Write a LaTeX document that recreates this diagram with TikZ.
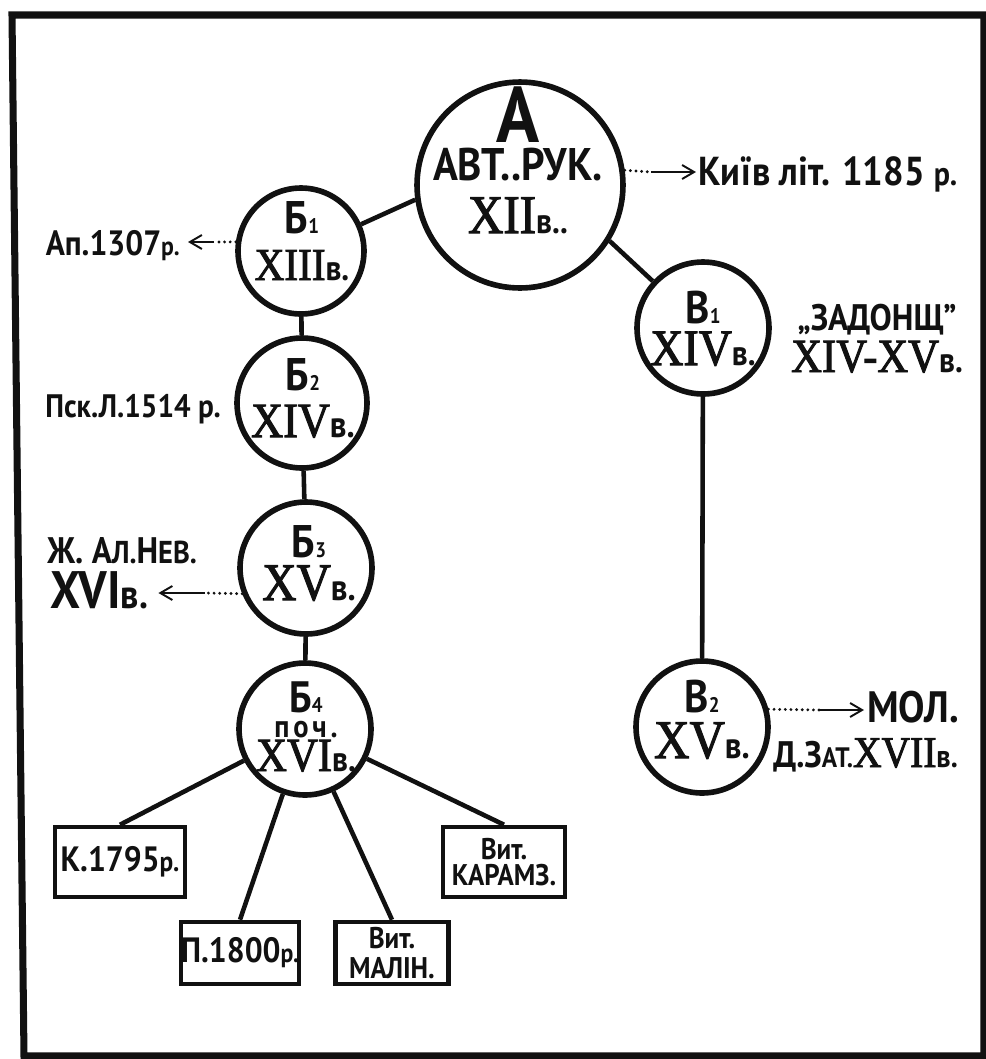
\documentclass[tikz,border=0pt]{standalone}
\usepackage{fontspec}
\setmainfont{PT Sans}[FakeStretch=0.9,UprightFont=* Bold]
\newfontfamily\romfont{Liberation Serif}[FakeStretch=0.9,FakeBold=2]
\usepackage{tikz}
\usetikzlibrary{arrows.meta,positioning,calc}
\definecolor{ink}{HTML}{111111}
\lineskiplimit=-100pt
\newcommand{\fsz}[1]{\fontsize{#1}{#1}\selectfont}
\newcommand{\subidx}[1]{{\fsz{12}#1}}
\newcommand{\vek}[3]{{\romfont\fsz{#2}#1}{\fsz{#3}в.}}
\tikzset{
  ms/.style={draw=ink,circle,line width=3.2pt,inner sep=0pt},
  copybox/.style={draw=ink,line width=2.6pt,align=center,inner sep=0pt,text=ink},
  link/.style={draw=ink,line width=2.6pt},
  dotline/.style={draw=ink,line width=1.8pt,line cap=round,dash pattern=on 0pt off 3.2pt},
  arrline/.style={draw=ink,line width=1.1pt,-{Straight Barb[length=2.4mm,width=2.8mm]}},
  lab/.style={text=ink,inner sep=0pt,anchor=base},
  stack/.style={text=ink,inner sep=0pt,anchor=base,align=center,font=\fontsize{10}{0}\selectfont}
}

\begin{document}
\begin{tikzpicture}[x=0.02cm,y=-0.02cm]
    \useasboundingbox (0,0) rectangle (986,1059);
    \draw[ink,line width=4pt] (12,15) -- (984,15) -- (984,1056) -- (24,1056) -- cycle;
    % manuscripts
    \node[ms,minimum size=4.12cm] (a) at (520,185) {};
    \node[ms,minimum size=2.52cm] (b1) at (301,251) {};
    \node[ms,minimum size=2.6cm] (b2) at (302,403) {};
    \node[ms,minimum size=2.64cm] (b3) at (306,568) {};
    \node[ms,minimum size=2.64cm] (b4) at (305,729) {};
    \node[ms,minimum size=2.64cm] (v1) at (703,328) {};
    \node[ms,minimum size=2.64cm] (v2) at (702,727) {};
    \node[stack] (a-txt) at (518,233)
      {{\fsz{45}А}\\[21.5pt]{\fsz{26}АВТ..РУК.}\\[30pt]{\romfont\fsz{31}XII}{\fsz{20}в..}};
    \node[stack] (b1-txt) at (302,280) {{\fsz{26}Б}\subidx{1}\\[26.6pt]\vek{XIII}{26}{20}};
    \node[stack] (b2-txt) at (303,437) {{\fsz{26}Б}\subidx{2}\\[26.6pt]\vek{XIV}{28}{21}};
    \node[stack] (b3-txt) at (309,600) {{\fsz{26}Б}\subidx{3}\\[24.4pt]\vek{XV}{30}{21}};
    \node[stack] (b4-txt) at (306,771)
      {{\fsz{25}Б}\subidx{4}\\[14.2pt]{\fsz{18}\addfontfeature{LetterSpace=12}поч.}\\[19.3pt]\vek{XVI}{27}{20}};
    \node[stack] (v1-txt) at (703,365) {{\fsz{26}В}\subidx{1}\\[23.8pt]\vek{XIV}{29}{20}};
    \node[stack] (v2-txt) at (702,758) {{\fsz{26}В}\subidx{2}\\[26pt]\vek{XV}{31}{21}};
    % copies
    \node[copybox,minimum width=2.6cm,minimum height=1.4cm,font=\fsz{20}] (k1795) at (120,862) {К.1795{\fsz{16}р.}};
    \node[copybox,minimum width=2.28cm,minimum height=1.24cm,font=\fsz{20}] (p1800) at (240,953) {П.1800{\fsz{15}р.}};
    \node[copybox,minimum width=2.26cm,minimum height=1.24cm,font=\fsz{17}] (malin) at (392,953) {Вит.\\МАЛІН.};
    \node[copybox,minimum width=2.44cm,minimum height=1.4cm,font=\fsz{17}] (karamz) at (504,862) {Вит.\\[-2pt]КАРАМЗ.};
    % side notes
    \node[lab,anchor=base west,font=\fsz{23}] (kyiv) at (698,185) {Київ літ. 1185 {\fsz{19}р.}};
    \node[lab,anchor=base east,font=\fsz{20}] (ap) at (180,255) {Ап.1307{\fsz{15}р.}};
    \node[lab,anchor=base west,font=\fsz{18.5}] (psk) at (45,417) {Пск.Л.1514 р.};
    \node[lab,anchor=base west] (zh) at (47,563) {{\fsz{21}Ж. А}{\fsz{18}Л.}{\fsz{21}Н}{\fsz{18}ЕВ.}};
    \node[lab,anchor=base west] (zh-c) at (50,608) {{\fsz{30}XVI}{\fsz{23}в.}};
    \node[stack] (zad) at (877,372) {{\fsz{21}„ЗАДОНЩ"}\\[23.8pt]{\romfont\fsz{27}XIV-XV}{\fsz{20}в.}};
    \node[lab,anchor=base west,font=\fsz{25}] (mol) at (867,722) {МОЛ.};
    \node[lab,anchor=base west] (mol-c) at (773,767) {{\fsz{21}Д.З}{\fsz{16}АТ.}{\romfont\fsz{25}XVII}{\fsz{18}в.}};
    % lines of descent
    \draw[link] (b1.24) -- (a.188);
    \draw[link] (a.328) -- (v1.137);
    \draw[link] (b1) -- (b2);
    \draw[link] (b2) -- (b3);
    \draw[link] (b3) -- (b4);
    \draw[link] (v1) -- (v2);
    \foreach \c in {k1795,p1800,malin,karamz}
      \draw[link] (b4) -- (\c.north);
    % dotted references
    \coordinate (kyiv-d) at (651,172);
    \draw[dotline] (a.8) -- (kyiv-d);
    \draw[arrline] (kyiv-d) -- ($(kyiv.west |- kyiv-d)+(-2,0)$);
    \coordinate (ap-d) at (214,242);
    \draw[dotline] (b1.172) -- (ap-d);
    \draw[arrline] (ap-d) -- ($(ap.east |- ap-d)+(8,0)$);
    \coordinate (zh-d) at (205,593);
    \draw[dotline] (b3.202) -- (zh-d);
    \draw[arrline] (zh-d) -- ($(zh-c.east |- zh-d)+(10,0)$);
    \coordinate (mol-d) at (820,710);
    \draw[dotline] (v2.15) -- (mol-d);
    \draw[arrline] (mol-d) -- ($(mol.west |- mol-d)+(-3,0)$);
\end{tikzpicture}
\end{document}
